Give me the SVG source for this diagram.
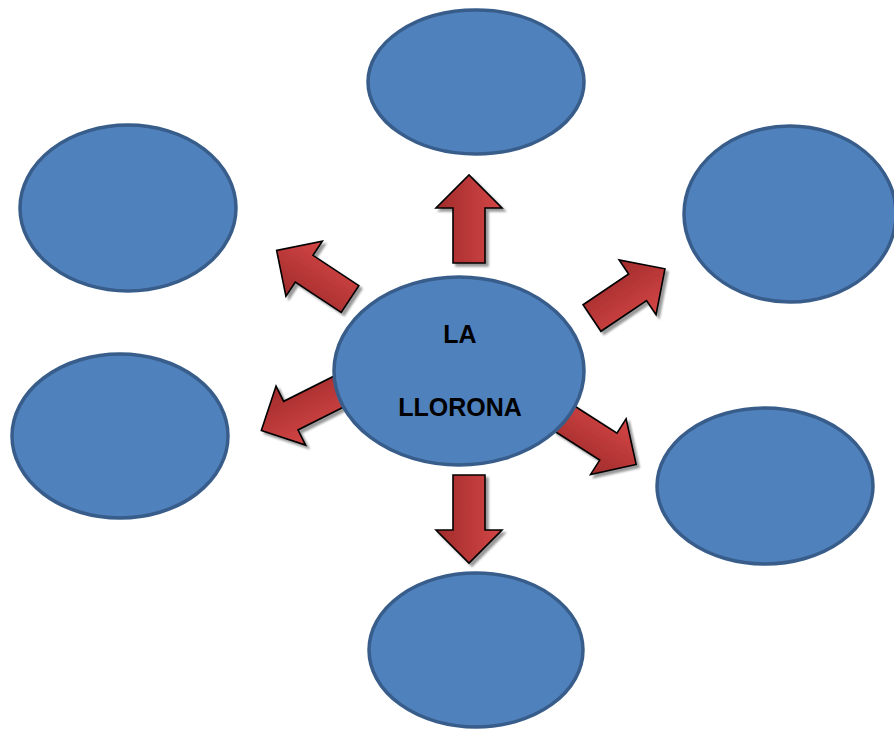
<svg xmlns="http://www.w3.org/2000/svg" width="894" height="729" viewBox="0 0 894 729">
<defs>
<style>
.node ellipse{fill:#4f81bd;stroke:#385d8a;stroke-width:3.5}
.arrow{stroke:#000;stroke-width:1.6;stroke-linejoin:miter}
.lbl{font-family:"Liberation Sans",Arial,sans-serif;font-weight:bold;font-size:25px;fill:#000;text-anchor:middle}
</style>
<linearGradient id="gA" gradientUnits="userSpaceOnUse" x1="0" y1="-33" x2="0" y2="33">
<stop offset="0" stop-color="#a12b2b"/><stop offset="1" stop-color="#d44646"/>
</linearGradient>
<linearGradient id="gB" gradientUnits="userSpaceOnUse" x1="0" y1="-33" x2="0" y2="33">
<stop offset="0" stop-color="#d44646"/><stop offset="1" stop-color="#a12b2b"/>
</linearGradient>
<polygon id="arr" points="0,-16 55,-16 55,-33 88,0 55,33 55,16 0,16"/>
<filter id="sh" x="-20%" y="-20%" width="140%" height="140%">
<feDropShadow dx="3" dy="3" stdDeviation="1" flood-color="#000" flood-opacity="0.4"/>
</filter>
</defs>
<rect width="894" height="729" fill="#fff"/>
<g id="connectors">
<g filter="url(#sh)"><use href="#arr" class="arrow" fill="url(#gA)" transform="translate(469,263) rotate(-90)"/></g>
<g filter="url(#sh)"><use href="#arr" class="arrow" fill="url(#gB)" transform="translate(469,475) rotate(90)"/></g>
<g filter="url(#sh)"><use href="#arr" class="arrow" fill="url(#gA)" transform="translate(350,299) rotate(213.5)"/></g>
<g filter="url(#sh)"><use href="#arr" class="arrow" fill="url(#gA)" transform="translate(592,318) rotate(-34)"/></g>
<g filter="url(#sh)"><use href="#arr" class="arrow" fill="url(#gB)" transform="translate(340,391) rotate(153.4)"/></g>
<g filter="url(#sh)"><use href="#arr" class="arrow" fill="url(#gB)" transform="translate(562,417) rotate(32.6)"/></g>
</g>
<g id="n-top" class="node"><ellipse cx="476" cy="82" rx="108" ry="72"/></g>
<g id="n-upper-left" class="node"><ellipse cx="128" cy="208" rx="108" ry="83"/></g>
<g id="n-upper-right" class="node"><ellipse cx="790" cy="214" rx="106" ry="88"/></g>
<g id="n-left" class="node"><ellipse cx="120" cy="436" rx="108" ry="82"/></g>
<g id="n-right" class="node"><ellipse cx="765" cy="486" rx="108" ry="78"/></g>
<g id="n-bottom" class="node"><ellipse cx="476" cy="650" rx="107" ry="77"/></g>
<g id="n-center" class="node"><ellipse cx="459" cy="371" rx="125" ry="94"/>
<text class="lbl" x="460" y="343">LA</text>
<text class="lbl" x="460" y="416">LLORONA</text>
</g>
</svg>
